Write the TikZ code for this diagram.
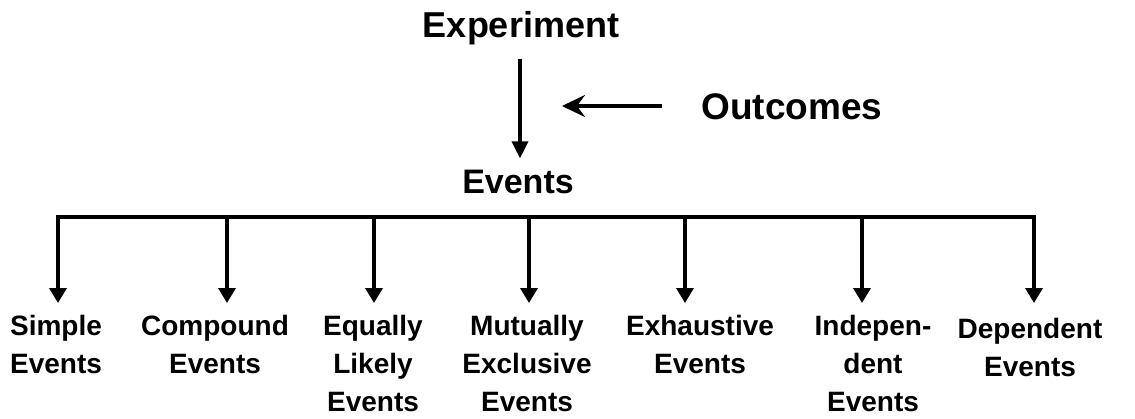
\documentclass[tikz,border=0pt]{standalone}
\usepackage{fontspec}
\setmainfont{Liberation Sans}
\usetikzlibrary{arrows.meta}
\begin{document}
\begin{tikzpicture}[x=1pt,y=-1pt,
  big/.style={font=\fontsize{#1}{40pt}\selectfont\bfseries, inner sep=0pt},
  small/.style={font=\fontsize{28pt}{38pt}\selectfont\bfseries, inner sep=0pt, align=center, anchor=north},
  line/.style={line width=3.5pt},
  drop/.style={line width=3.5pt, -{Triangle[length=15pt,width=17pt]}, shorten >=12pt},
  mainarr/.style={line width=3.5pt, -{Triangle[length=17pt,width=16pt]}},
  outarr/.style={line width=3.5pt, -{Stealth[length=23pt,width=22pt,inset=8pt]}}
]
\useasboundingbox (0,0) rectangle (1135,418);

% top part
\node[big=36pt, anchor=base] (exp) at (521,37) {Experiment};
\node[big=34pt, anchor=base] (events) at (518,193) {Events};
\node[big=37pt, anchor=base] (out) at (792,119) {Outcomes};
\coordinate (oc) at (562,106);

\draw[mainarr, shorten <=14pt, shorten >=11pt] (exp.south -| 520,0) -- (events.north -| 520,0);
\draw[outarr, shorten <=39pt] (out.west |- oc) -- (oc);

% bottom labels
\node[small] (simple) at (56,315) {Simple\\Events};
\node[small] (compound) at (215,315) {Compound\\Events};
\node[small] (equally) at (373,315) {Equally\\Likely\\Events};
\node[small] (mutually) at (527,315) {Mutually\\Exclusive\\Events};
\node[small] (exhaustive) at (700,315) {Exhaustive\\Events};
\node[small] (indep) at (873,315) {Indepen-\\dent\\Events};
\node[small] (dep) at (1030,318) {Dependent\\Events};

% bus
\coordinate (b1) at (58,217);
\coordinate (b2) at (227,217);
\coordinate (b3) at (374,217);
\coordinate (b4) at (529,217);
\coordinate (b5) at (685,217);
\coordinate (b6) at (862,217);
\coordinate (b7) at (1034,217);

\draw[line, line cap=rect] (b1) -- (b7);
\draw[drop] (b1) -- (b1 |- simple.north);
\draw[drop] (b2) -- (b2 |- compound.north);
\draw[drop] (b3) -- (b3 |- equally.north);
\draw[drop] (b4) -- (b4 |- mutually.north);
\draw[drop] (b5) -- (b5 |- exhaustive.north);
\draw[drop] (b6) -- (b6 |- indep.north);
\draw[drop, shorten >=15pt] (b7) -- (b7 |- dep.north);
\end{tikzpicture}
\end{document}
